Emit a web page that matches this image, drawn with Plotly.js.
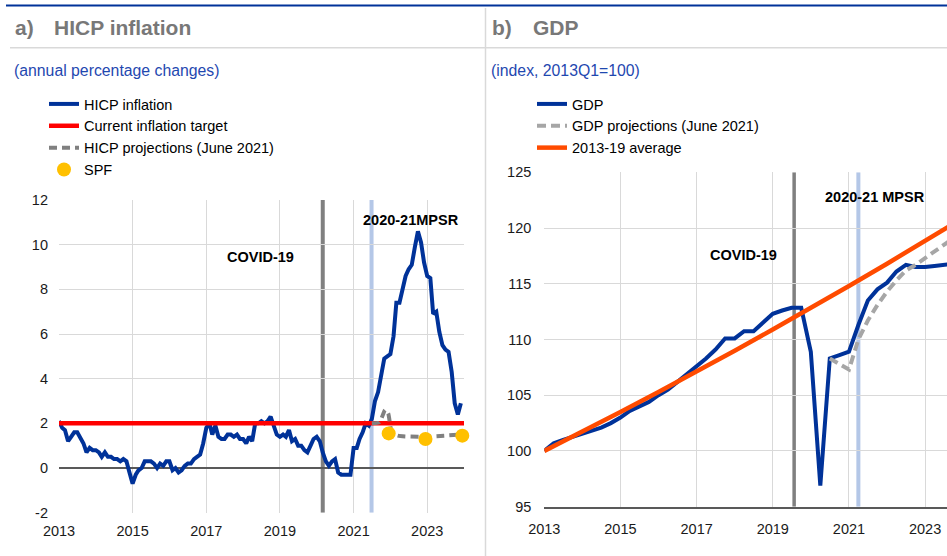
<!DOCTYPE html>
<html>
<head>
<meta charset="utf-8">
<script src="https://cdn.plot.ly/plotly-3.0.1.min.js"></script>
<style>
html,body{margin:0;padding:0;background:#fff;}
#chart{width:947px;height:556px;}
</style>
</head>
<body>
<div id="chart"></div>
<script>
// ---------- Panel a: HICP inflation (monthly, Jan 2013 - Dec 2023) ----------
const hicpYears = [2013,2014,2015,2016,2017,2018,2019,2020,2021,2022,2023];
const hicpInflation = [
  2.1, 1.8, 1.7, 1.2, 1.4, 1.6, 1.6, 1.3, 1.1, 0.7, 0.9, 0.8,
  0.8, 0.7, 0.5, 0.7, 0.5, 0.5, 0.4, 0.4, 0.3, 0.4, 0.3, -0.2,
  -0.7, -0.3, -0.1, 0.0, 0.3, 0.3, 0.3, 0.2, 0.0, 0.2, 0.1, 0.3,
  0.3, -0.1, 0.0, -0.2, -0.1, 0.1, 0.2, 0.2, 0.4, 0.5, 0.6, 1.1,
  1.8, 2.0, 1.5, 1.9, 1.4, 1.3, 1.3, 1.5, 1.5, 1.4, 1.5, 1.3,
  1.3, 1.1, 1.4, 1.2, 2.0, 2.0, 2.1, 2.0, 2.1, 2.3, 1.9, 1.5,
  1.4, 1.5, 1.4, 1.7, 1.2, 1.3, 1.0, 1.0, 0.8, 0.7, 1.0, 1.3,
  1.4, 1.2, 0.7, 0.3, 0.1, 0.3, 0.4, -0.2, -0.3, -0.3, -0.3, -0.3,
  0.9, 0.9, 1.3, 1.6, 2.0, 1.9, 2.2, 3.0, 3.4, 4.1, 4.9, 5.0,
  5.1, 5.9, 7.4, 7.4, 8.1, 8.6, 8.9, 9.1, 9.9, 10.6, 10.1, 9.2,
  8.6, 8.5, 6.9, 7.0, 6.1, 5.5, 5.3, 5.2, 4.3, 2.9, 2.4, 2.9
];
const hicpMonths = [];
hicpYears.forEach(y => { for (let m = 1; m <= 12; m++) hicpMonths.push(y + '-' + String(m).padStart(2,'0') + '-01'); });

const targetDates = ['2013-01-01', '2024-01-01'];
const targetValues = [2, 2];

const hicpProjDates = ['2021-07-01','2021-09-15','2021-11-10','2021-12-10','2022-01-15','2022-03-15','2022-12-01','2023-12-01'];
const hicpProjValues = [2.0, 2.05, 2.6, 2.45, 1.6, 1.45, 1.4, 1.5];

const spfDates = ['2021-12-15','2022-12-15','2023-12-15'];
const spfValues = [1.55, 1.3, 1.45];

const hicpTickValues = [-2, 0, 2, 4, 6, 8, 10, 12];
const hicpTickLabels = ['-2', '0', '2', '4', '6', '8', '10', '12'];

const covidDateA = '2020-03-01';
const mpsrDateA = '2021-06-28';

// ---------- Panel b: GDP (quarterly, index 2013Q1 = 100) ----------
const gdpYears = [2013,2014,2015,2016,2017,2018,2019,2020,2021,2022,2023];
const gdpIndex = [
  100.0, 100.7, 101.0, 101.3,
  101.6, 101.8, 102.1, 102.5,
  103.0, 103.6, 104.0, 104.4,
  105.0, 105.5, 106.2, 106.9,
  107.5, 108.3, 109.1, 110.1,
  110.1, 110.75, 110.75, 111.5,
  112.3, 112.6, 112.85, 112.85,
  108.9, 96.9, 108.3, 108.6,
  108.9, 111.3, 113.5, 114.5,
  115.1, 116.1, 116.7, 116.5,
  116.5, 116.6, 116.7, 116.8
];
const gdpQuarters = [];
gdpYears.forEach(y => { ['01','04','07','10'].forEach(m => gdpQuarters.push(y + '-' + m + '-01')); });

const gdpProjDates = ['2020-07-01','2020-10-01','2021-01-01','2021-04-01','2021-07-01','2021-10-01','2022-01-01','2022-04-01','2022-07-01','2022-10-01','2023-01-01','2023-04-01','2023-07-01','2023-10-01'];
const gdpProjValues = [108.3, 107.8, 107.3, 110.0, 111.7, 113.1, 114.3, 115.3, 116.2, 116.7, 117.3, 117.9, 118.5, 119.1];

const avgDates = ['2013-01-01','2014-01-01','2015-01-01','2016-01-01','2017-01-01','2018-01-01','2019-01-01','2020-01-01','2021-01-01','2022-01-01','2023-01-01','2023-10-01'];
const avgValues = [100.0, 101.7, 103.5, 105.3, 107.1, 109.0, 110.9, 112.8, 114.8, 116.8, 118.8, 120.4];

const covidDateB = '2019-07-25';
const mpsrDateB = '2021-04-01';

// ---------- styling ----------
const W = 947, H = 556;
const px = v => v / W;
const py = v => (H - v) / H;
const FONT = 'Arial, "Liberation Sans", sans-serif';
const ECB_BLUE = '#003299';
const GRID = '#d9d9d9';

const traces = [
  {x: hicpMonths, y: hicpInflation, type: 'scatter', mode: 'lines', name: 'HICP inflation',
   line: {color: ECB_BLUE, width: 4}, xaxis: 'x', yaxis: 'y', legend: 'legend'},
  {x: targetDates, y: targetValues, type: 'scatter', mode: 'lines', name: 'Current inflation target',
   line: {color: '#ff0000', width: 4.5}, xaxis: 'x', yaxis: 'y', legend: 'legend'},
  {x: hicpProjDates, y: hicpProjValues, type: 'scatter', mode: 'lines', name: 'HICP projections (June 2021)',
   line: {color: '#808080', width: 4, dash: '8px,5px', shape: 'spline', smoothing: 0.6}, xaxis: 'x', yaxis: 'y', legend: 'legend'},
  {x: spfDates, y: spfValues, type: 'scatter', mode: 'markers', name: 'SPF', cliponaxis: false,
   marker: {color: '#ffc000', size: 14}, xaxis: 'x', yaxis: 'y', legend: 'legend'},

  {x: gdpQuarters, y: gdpIndex, type: 'scatter', mode: 'lines', name: 'GDP',
   line: {color: ECB_BLUE, width: 4}, xaxis: 'x2', yaxis: 'y2', legend: 'legend2'},
  {x: gdpProjDates, y: gdpProjValues, type: 'scatter', mode: 'lines', name: 'GDP projections (June 2021)',
   line: {color: '#a6a6a6', width: 4, dash: '9px,5px'}, xaxis: 'x2', yaxis: 'y2', legend: 'legend2'},
  {x: avgDates, y: avgValues, type: 'scatter', mode: 'lines', name: '2013-19 average',
   line: {color: '#ff4b00', width: 4.5}, xaxis: 'x2', yaxis: 'y2', legend: 'legend2'}
];

const axisFont = {family: FONT, size: 14.5, color: '#1a1a1a'};

const layout = {
  width: W, height: H,
  margin: {l: 0, r: 0, t: 0, b: 0},
  paper_bgcolor: '#ffffff', plot_bgcolor: '#ffffff',
  font: {family: FONT, size: 14.5, color: '#000'},
  showlegend: true,
  xaxis: {type: 'date', anchor: 'y', domain: [px(59), px(464)],
    range: ['2013-01-01', '2024-01-01'], tick0: '2013-01-01', dtick: 'M24', tickformat: '%Y',
    showgrid: true, gridcolor: GRID, gridwidth: 1, zeroline: false, showline: false,
    ticks: '', ticklabelstandoff: 8, tickfont: axisFont},
  yaxis: {anchor: 'x', domain: [py(512.7), py(200)], range: [-2, 12],
    tickmode: 'array', tickvals: hicpTickValues, ticktext: hicpTickLabels,
    showgrid: true, gridcolor: GRID, gridwidth: 1, zeroline: true, zerolinecolor: '#595959', zerolinewidth: 1.5,
    showline: false, ticks: '', ticklabelstandoff: 10, tickfont: axisFont},
  xaxis2: {type: 'date', anchor: 'y2', domain: [px(544.3), 1],
    range: ['2013-01-01', '2023-07-30'], tick0: '2013-01-01', dtick: 'M24', tickformat: '%Y',
    showgrid: true, gridcolor: GRID, gridwidth: 1, zeroline: false, showline: true, linecolor: '#595959', linewidth: 2,
    ticks: '', ticklabelstandoff: 8, tickfont: axisFont},
  yaxis2: {anchor: 'x2', domain: [py(506.7), py(172.3)], range: [95, 125], tick0: 95, dtick: 5,
    showgrid: true, gridcolor: GRID, gridwidth: 1, zeroline: false, showline: false,
    ticks: '', ticklabelstandoff: 12, tickfont: axisFont},
  legend: {x: px(44), xanchor: 'left', y: py(88), yanchor: 'top', bgcolor: 'rgba(0,0,0,0)',
    font: {family: FONT, size: 14.5, color: '#000'}},
  legend2: {x: px(532), xanchor: 'left', y: py(88), yanchor: 'top', bgcolor: 'rgba(0,0,0,0)',
    font: {family: FONT, size: 14.5, color: '#000'}},
  shapes: [
    // header decorations
    {type: 'line', xref: 'paper', yref: 'paper', x0: px(6), x1: 1, y0: py(5.5), y1: py(5.5), line: {color: ECB_BLUE, width: 2}},
    {type: 'line', xref: 'paper', yref: 'paper', x0: px(10), x1: 1, y0: py(47.7), y1: py(47.7), line: {color: GRID, width: 1.5}},
    {type: 'line', xref: 'paper', yref: 'paper', x0: px(485.5), x1: px(485.5), y0: py(8), y1: 0, line: {color: GRID, width: 1.5}},
    // event markers panel a
    {type: 'line', xref: 'x', yref: 'y', x0: covidDateA, x1: covidDateA, y0: -2, y1: 12, layer: 'below', line: {color: '#808080', width: 4}},
    {type: 'line', xref: 'x', yref: 'y', x0: mpsrDateA, x1: mpsrDateA, y0: -2, y1: 12, layer: 'below', line: {color: '#b4c7e7', width: 4}},
    // event markers panel b
    {type: 'line', xref: 'x2', yref: 'y2', x0: covidDateB, x1: covidDateB, y0: 95, y1: 125, layer: 'below', line: {color: '#808080', width: 3.5}},
    {type: 'line', xref: 'x2', yref: 'y2', x0: mpsrDateB, x1: mpsrDateB, y0: 95, y1: 125, layer: 'below', line: {color: '#b4c7e7', width: 4}}
  ],
  annotations: [
    {xref: 'paper', yref: 'paper', x: px(13), y: py(27.5), xanchor: 'left', yanchor: 'middle', showarrow: false,
     text: '<b>a)</b>', font: {family: FONT, size: 21, color: '#787878'}},
    {xref: 'paper', yref: 'paper', x: px(52), y: py(27.5), xanchor: 'left', yanchor: 'middle', showarrow: false,
     text: '<b>HICP inflation</b>', font: {family: FONT, size: 21, color: '#787878'}},
    {xref: 'paper', yref: 'paper', x: px(490.5), y: py(27.5), xanchor: 'left', yanchor: 'middle', showarrow: false,
     text: '<b>b)</b>', font: {family: FONT, size: 21, color: '#787878'}},
    {xref: 'paper', yref: 'paper', x: px(531), y: py(27.5), xanchor: 'left', yanchor: 'middle', showarrow: false,
     text: '<b>GDP</b>', font: {family: FONT, size: 21, color: '#787878'}},
    {xref: 'paper', yref: 'paper', x: px(12), y: py(70), xanchor: 'left', yanchor: 'middle', showarrow: false,
     text: '(annual percentage changes)', font: {family: FONT, size: 15.8, color: '#1f48b0'}},
    {xref: 'paper', yref: 'paper', x: px(489), y: py(70), xanchor: 'left', yanchor: 'middle', showarrow: false,
     text: '(index, 2013Q1=100)', font: {family: FONT, size: 15.8, color: '#1f48b0'}},
    {xref: 'paper', yref: 'paper', x: px(260.7), y: py(256.7), xanchor: 'center', yanchor: 'middle', showarrow: false,
     text: '<b>COVID-19</b>', font: {family: FONT, size: 14.5, color: '#000'}},
    {xref: 'paper', yref: 'paper', x: px(410.5), y: py(220), xanchor: 'center', yanchor: 'middle', showarrow: false,
     text: '<b>2020-21MPSR</b>', font: {family: FONT, size: 14.5, color: '#000'}},
    {xref: 'paper', yref: 'paper', x: px(743), y: py(255), xanchor: 'center', yanchor: 'middle', showarrow: false,
     text: '<b>COVID-19</b>', font: {family: FONT, size: 14.5, color: '#000'}},
    {xref: 'paper', yref: 'paper', x: px(874.7), y: py(196.7), xanchor: 'center', yanchor: 'middle', showarrow: false,
     text: '<b>2020-21 MPSR</b>', font: {family: FONT, size: 14.5, color: '#000'}}
  ]
};

Plotly.newPlot('chart', traces, layout, {displayModeBar: false, staticPlot: true});
</script>
</body>
</html>
